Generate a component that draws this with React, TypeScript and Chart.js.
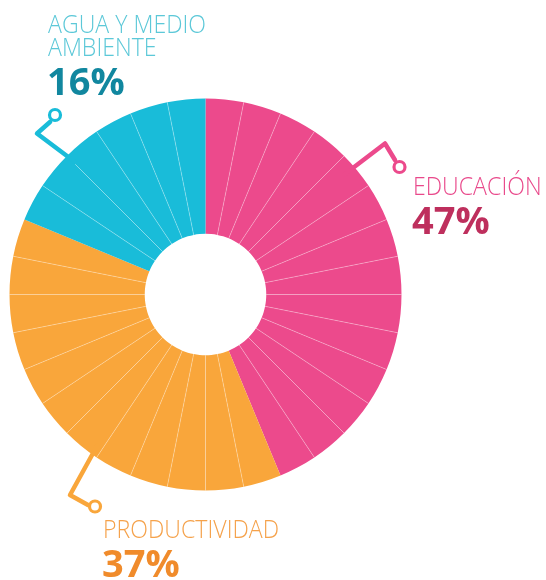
import React, { useEffect, useRef } from "react";
import { Chart, registerables } from "chart.js";

Chart.register(...registerables);

// ---- data ----
const categories = ["EDUCACIÓN", "PRODUCTIVIDAD", "AGUA Y MEDIO AMBIENTE"];
const percentLabels = ["47%", "37%", "16%"];
const categoryColors = ["#EC4A8C", "#F9A63B", "#19BCD9"];
const labelColors = ["#E9498B", "#F5A24B", "#5CC8D8"];
const percentColors = ["#BE2F5D", "#F08B2B", "#11879F"];
// the ring is cut into equal wedges; each wedge belongs to one category
const wedgeValues = [
  1, 1, 1, 1, 1, 1, 1, 1, 1, 1, 1, 1, 1, 1,
  1, 1, 1, 1, 1, 1, 1, 1, 1, 1, 1, 1,
  1, 1, 1, 1, 1, 1,
];
const wedgeCategory = [
  0, 0, 0, 0, 0, 0, 0, 0, 0, 0, 0, 0, 0, 0,
  1, 1, 1, 1, 1, 1, 1, 1, 1, 1, 1, 1,
  2, 2, 2, 2, 2, 2,
];

// ---- decoration (leader lines), offsets from ring centre ----
const leaders = [
  { cat: 0, pts: [[139.5, -120.5], [179.5, -151], [189.5, -134.5]], circle: [194, -127.5] },
  { cat: 1, pts: [[-108.5, 151.5], [-135.5, 200.5], [-117.5, 210.5]], circle: [-110.5, 212] },
  { cat: 2, pts: [[-130.5, -132.5], [-168.5, -161], [-155.5, -172.5]], circle: [-150.5, -179.5] },
];

const separatorPlugin = {
  id: "separators",
  afterDatasetsDraw(chart: any) {
    const ctx = chart.ctx;
    const meta = chart.getDatasetMeta(0);
    ctx.save();
    ctx.strokeStyle = "rgba(255,255,255,0.3)";
    ctx.lineWidth = 1;
    meta.data.forEach((arc: any, i: number) => {
      if (i === 0) return;
      if (wedgeCategory[i] !== wedgeCategory[i - 1]) return;
      const p = arc.getProps(["x", "y", "startAngle", "innerRadius", "outerRadius"], true);
      const c = Math.cos(p.startAngle);
      const s = Math.sin(p.startAngle);
      ctx.beginPath();
      ctx.moveTo(p.x + c * p.innerRadius, p.y + s * p.innerRadius);
      ctx.lineTo(p.x + c * p.outerRadius, p.y + s * p.outerRadius);
      ctx.stroke();
    });
    ctx.restore();
  },
};

const leaderPlugin = {
  id: "leaders",
  afterDraw(chart: any) {
    const ctx = chart.ctx;
    const arc = chart.getDatasetMeta(0).data[0];
    const cx = arc.x;
    const cy = arc.y;
    ctx.save();
    ctx.lineJoin = "round";
    ctx.lineCap = "round";
    leaders.forEach((l) => {
      ctx.strokeStyle = categoryColors[l.cat];
      ctx.lineWidth = 4.5;
      ctx.beginPath();
      l.pts.forEach((p, i) => {
        if (i === 0) ctx.moveTo(cx + p[0], cy + p[1]);
        else ctx.lineTo(cx + p[0], cy + p[1]);
      });
      ctx.stroke();
      ctx.beginPath();
      ctx.arc(cx + l.circle[0], cy + l.circle[1], 5.5, 0, Math.PI * 2);
      ctx.fillStyle = "#fff";
      ctx.fill();
      ctx.lineWidth = 3.2;
      ctx.stroke();
    });
    ctx.restore();
  },
};

const FONT = "'Open Sans', 'Noto Sans', sans-serif";

function Label(props: {
  text: string;
  x: number;
  baseline: number;
  size: number;
  weight: number;
  color: string;
  scale: number;
}) {
  const { text, x, baseline, size, weight, color, scale } = props;
  return (
    <div
      style={{
        position: "absolute",
        left: x,
        top: baseline - 0.888 * size,
        fontFamily: FONT,
        fontSize: size,
        lineHeight: `${size}px`,
        fontWeight: weight,
        color,
        whiteSpace: "nowrap",
        transform: `scaleX(${scale})`,
        transformOrigin: "left top",
      }}
    >
      {text}
    </div>
  );
}

export default function App() {
  const ref = useRef<HTMLCanvasElement | null>(null);

  useEffect(() => {
    if (!ref.current) return;
    const chart = new Chart(ref.current, {
      type: "doughnut",
      data: {
        labels: wedgeCategory.map((c) => categories[c]),
        datasets: [
          {
            data: wedgeValues,
            backgroundColor: wedgeCategory.map((c) => categoryColors[c]),
            borderWidth: 0,
            hoverOffset: 0,
          },
        ],
      },
      options: {
        responsive: false,
        animation: false,
        devicePixelRatio: 1,
        cutout: "31%",
        layout: { padding: { left: 9.5, top: 98.5, right: 144.5, bottom: 89.5 } },
        plugins: {
          legend: { display: false },
          tooltip: { enabled: false },
        },
        events: [],
      },
      plugins: [separatorPlugin, leaderPlugin],
    });
    return () => chart.destroy();
  }, []);

  const light = 26;
  const bold = 38;
  const ls = 0.89;
  return (
    <div
      style={{
        position: "fixed",
        left: 0,
        top: 0,
        width: 546,
        height: 580,
        background: "#fff",
        overflow: "hidden",
      }}
    >
      <canvas
        ref={ref}
        width={546}
        height={580}
        style={{ position: "absolute", left: 0, top: 0, width: 546, height: 580 }}
      />
      {/* AGUA Y MEDIO AMBIENTE */}
      <Label text="AGUA Y MEDIO" x={48} baseline={33} size={light} weight={300} color={labelColors[2]} scale={ls} />
      <Label text="AMBIENTE" x={48} baseline={56} size={light} weight={300} color={labelColors[2]} scale={ls} />
      <Label text={percentLabels[2]} x={47} baseline={95} size={bold} weight={700} color={percentColors[2]} scale={1} />
      {/* EDUCACIÓN */}
      <Label text={categories[0]} x={413} baseline={195} size={light} weight={300} color={labelColors[0]} scale={ls} />
      <Label text={percentLabels[0]} x={412} baseline={234} size={bold} weight={700} color={percentColors[0]} scale={1} />
      {/* PRODUCTIVIDAD */}
      <Label text={categories[1]} x={103} baseline={538} size={light} weight={300} color={labelColors[1]} scale={ls} />
      <Label text={percentLabels[1]} x={102} baseline={577} size={bold} weight={700} color={percentColors[1]} scale={1} />
    </div>
  );
}
